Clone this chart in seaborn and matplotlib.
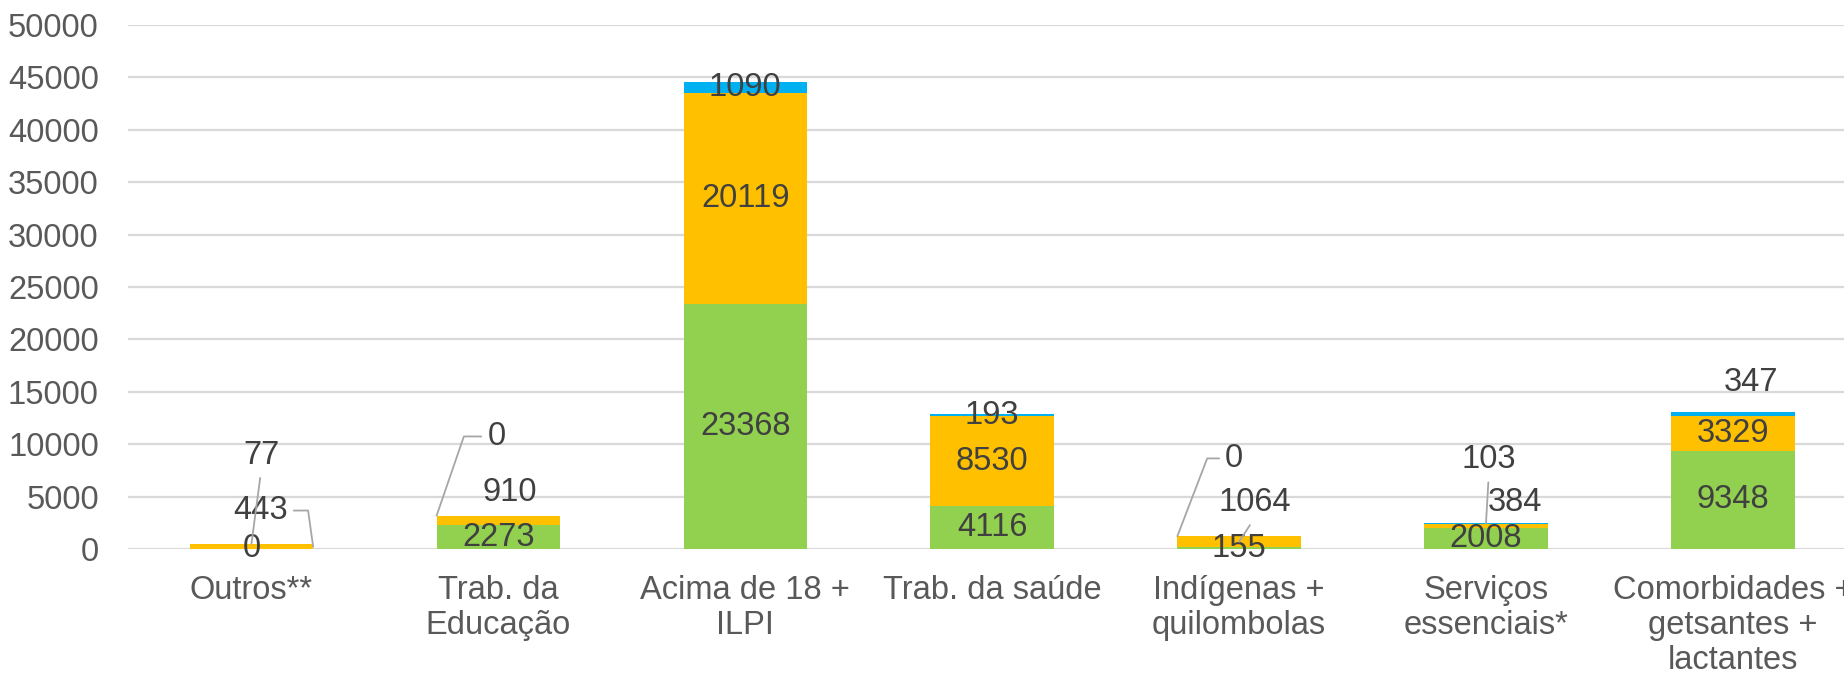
import matplotlib

matplotlib.use("Agg")
import matplotlib.pyplot as plt
import pandas as pd
import seaborn as sns

categories = [
    "Outros**",
    "Trab. da\nEducação",
    "Acima de 18 +\nILPI",
    "Trab. da saúde",
    "Indígenas +\nquilombolas",
    "Serviços\nessenciais*",
    "Comorbidades +\ngetsantes +\nlactantes",
]
green_values = [0, 2273, 23368, 4116, 155, 2008, 9348]
orange_values = [443, 910, 20119, 8530, 1064, 384, 3329]
blue_values = [77, 0, 1090, 193, 0, 103, 347]
y_ticks = list(range(0, 50001, 5000))

COLORS = {"green": "#92D050", "orange": "#FFC000", "blue": "#00B0F0"}
LABEL_COLOR = "#404040"
TICK_COLOR = "#595959"
LEADER_COLOR = "#a6a6a6"
FONT_SIZE = 23.5

# labels that Excel moved away from the segment centre (offsets in points)
label_moves = {
    ("blue", 0): dict(offset=(7, 64), leader="straight"),
    ("orange", 0): dict(anchor="right", offset=(-38, 26), leader="elbow", angle=98, side=1),
    ("orange", 1): dict(offset=(8, 20)),
    ("blue", 1): dict(anchor="topleft", offset=(43, 57), leader="elbow", angle=71, side=0),
    ("orange", 4): dict(offset=(11, 28), leader="straight"),
    ("blue", 4): dict(anchor="topleft", offset=(41, 56), leader="elbow", angle=69, side=0),
    ("blue", 5): dict(offset=(2, 46), leader="straight"),
    ("orange", 5): dict(offset=(21, 17)),
    ("blue", 6): dict(offset=(13, 23)),
}

sns.set_theme(style="white")
plt.rcParams["font.family"] = ["Liberation Sans", "DejaVu Sans"]

df = pd.DataFrame(
    {
        "category": categories,
        "green": green_values,
        "orange": orange_values,
        "blue": blue_values,
    }
)
df["green_top"] = df["green"]
df["orange_top"] = df["green"] + df["orange"]
df["blue_top"] = df["orange_top"] + df["blue"]

fig = plt.figure(figsize=(18.44, 6.74), dpi=100)
ax = fig.add_axes([0.0694, 0.1855, 0.9306, 0.7775])

bar_width = 0.5
for series in ("blue", "orange", "green"):
    sns.barplot(
        data=df,
        x="category",
        y=f"{series}_top",
        order=categories,
        color=COLORS[series],
        saturation=1,
        width=bar_width,
        linewidth=0,
        ax=ax,
    )

# data labels
for series in ("green", "orange", "blue"):
    for i, row in df.iterrows():
        value = row[series]
        bottom = row[f"{series}_top"] - value
        center = bottom + value / 2
        move = label_moves.get((series, i), {})
        anchor = move.get("anchor", "center")
        if anchor == "right":
            xy = (i + bar_width / 2, center)
        elif anchor == "topleft":
            xy = (i - bar_width / 2, row[f"{series}_top"])
        else:
            xy = (i, center)
        arrow = None
        if move.get("leader") == "straight":
            arrow = dict(
                arrowstyle="-", color=LEADER_COLOR, lw=1.3,
                shrinkA=3, shrinkB=0, relpos=(0.5, 0),
            )
        elif move.get("leader") == "elbow":
            arrow = dict(
                arrowstyle="-", color=LEADER_COLOR, lw=1.3,
                shrinkA=2, shrinkB=0, relpos=(move["side"], 0.5),
                connectionstyle=f"angle,angleA=0,angleB={move['angle']},rad=0",
            )
        ax.annotate(
            f"{value}",
            xy=xy,
            xytext=move.get("offset", (0, 0)),
            textcoords="offset points",
            ha="center",
            va="center",
            fontsize=FONT_SIZE,
            color=LABEL_COLOR,
            arrowprops=arrow,
            annotation_clip=False,
        )

ax.set_xlim(-0.5, 6.45)
ax.set_ylim(0, 50000)
ax.set_yticks(y_ticks)
ax.set_yticklabels([str(t) for t in y_ticks])
ax.set_xlabel("")
ax.set_ylabel("")
ax.yaxis.grid(True, color="#d9d9d9", linewidth=1.6)
ax.xaxis.grid(False)
ax.set_axisbelow(True)
for spine in ax.spines.values():
    spine.set_visible(False)
ax.tick_params(axis="y", length=0, pad=21, labelsize=FONT_SIZE, labelcolor=TICK_COLOR)
ax.tick_params(axis="x", length=0, pad=18.5, labelsize=FONT_SIZE, labelcolor=TICK_COLOR)
for label in ax.get_xticklabels():
    label.set_linespacing(1.17)

fig.savefig("out.png", dpi=100)
plt.close()
